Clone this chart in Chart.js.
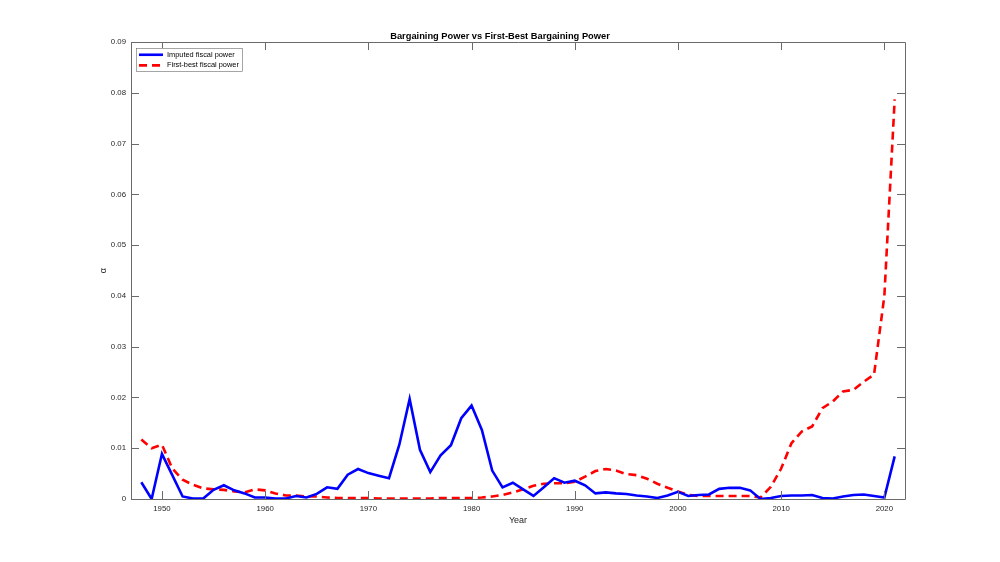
<!DOCTYPE html>
<html>
<head>
<meta charset="utf-8">
<script src="https://cdn.jsdelivr.net/npm/chart.js@4.4.0/dist/chart.umd.min.js"></script>
<style>
  body { margin: 0; background: #fff; }
</style>
</head>
<body>
<canvas id="myChart" width="1000" height="562"></canvas>
<script>
var years = [];
for (var yr = 1948; yr <= 2021; yr++) years.push(yr);

var imputed = [
  0.0033, 0, 0.0089, 0.0047, 0.0005, 0.0001, 0.0001, 0.0018, 0.0027, 0.0017,
  0.0011, 0.0003, 0.0003, 0.0001, 0.0001, 0.0006, 0.0003, 0.001, 0.0023, 0.002,
  0.0048, 0.0059, 0.0051, 0.0046, 0.0041, 0.0107, 0.0197, 0.0097, 0.0053, 0.0086,
  0.0106, 0.0159, 0.0184, 0.0136, 0.0056, 0.0023, 0.0032, 0.0019, 0.0006, 0.0023,
  0.0041, 0.0032, 0.0036, 0.0027, 0.0011, 0.0013, 0.0011, 0.001, 0.0007, 0.0005,
  0.0002, 0.0007, 0.0014, 0.0006, 0.0008, 0.0009, 0.002, 0.0022, 0.0022, 0.0017,
  0, 0.0002, 0.0006, 0.0007, 0.0007, 0.0008, 0.0002, 0.0001, 0.0005, 0.0008,
  0.0009, 0.0006, 0.0003, 0.0084
];

var firstBest = [
  0.0117, 0.01, 0.0107, 0.006, 0.0038, 0.0028, 0.0021, 0.0019, 0.0018, 0.0015,
  0.0013, 0.0019, 0.0017, 0.0011, 0.0007, 0.0007, 0.0005, 0.0005, 0.0003, 0.0002,
  0.0002, 0.0002, 0.0002, 0.0001, 0.0001, 0.0001, 0.0001, 0.0001, 0.0001, 0.0002,
  0.0002, 0.0002, 0.0002, 0.0003, 0.0005, 0.0008, 0.0013, 0.0019, 0.0026, 0.003,
  0.0031, 0.0031, 0.0034, 0.0044, 0.0055, 0.0059, 0.0056, 0.0049, 0.0047, 0.004,
  0.003, 0.0022, 0.0015, 0.0008, 0.0006, 0.0006, 0.0006, 0.0006, 0.0006, 0.0006,
  0.0003, 0.0024, 0.006, 0.011, 0.0133, 0.0143, 0.0179, 0.0192, 0.0212, 0.0215,
  0.0231, 0.0245, 0.040, 0.0787
];

var xTicks = [1950, 1960, 1970, 1980, 1990, 2000, 2010, 2020];
var yTicks = [0, 0.01, 0.02, 0.03, 0.04, 0.05, 0.06, 0.07, 0.08, 0.09];

var axisColor = '#262626';
var boxColor = '#6a6a6a';
var fontFamily = '"Liberation Sans", Arial, sans-serif';

function toPoints(vals) {
  return vals.map(function (v, i) { return { x: years[i], y: v }; });
}

// box round the axes with inward ticks on all four sides (matlab style)
var frame = {
  id: 'frame',
  afterDatasetsDraw: function (chart) {
    var a = chart.chartArea, c = chart.ctx;
    var xs = chart.scales.x, ys = chart.scales.y;
    var len = 8;
    c.save();
    c.strokeStyle = boxColor;
    c.lineWidth = 1;
    c.beginPath();
    c.rect(Math.round(a.left) + 0.5, Math.round(a.top) + 0.5,
      Math.round(a.right - a.left), Math.round(a.bottom - a.top));
    xTicks.forEach(function (t) {
      var px = Math.round(xs.getPixelForValue(t)) + 0.5;
      c.moveTo(px, a.bottom); c.lineTo(px, a.bottom - len);
      c.moveTo(px, a.top); c.lineTo(px, a.top + len);
    });
    yTicks.forEach(function (t) {
      var py = Math.round(ys.getPixelForValue(t)) + 0.5;
      c.moveTo(a.left, py); c.lineTo(a.left + len, py);
      c.moveTo(a.right, py); c.lineTo(a.right - len, py);
    });
    c.stroke();
    c.restore();
  }
};

// legend drawn inside the plot, top left
var insideLegend = {
  id: 'insideLegend',
  afterDraw: function (chart) {
    var a = chart.chartArea, c = chart.ctx;
    var bx = a.left + 5, by = a.top + 6, bw = 106, bh = 23;
    c.save();
    c.fillStyle = '#fff';
    c.fillRect(bx, by, bw, bh);
    c.strokeStyle = boxColor;
    c.lineWidth = 0.6;
    c.strokeRect(bx + 0.5, by + 0.5, bw, bh);
    c.font = '7.4px ' + fontFamily;
    c.textBaseline = 'middle';
    chart.data.datasets.forEach(function (ds, i) {
      var ry = by + 6.7 + i * 10.6;
      c.strokeStyle = ds.borderColor;
      c.lineWidth = ds.borderWidth;
      c.setLineDash(ds.borderDash || []);
      c.beginPath();
      c.moveTo(bx + 3, ry);
      c.lineTo(bx + 27, ry);
      c.stroke();
      c.setLineDash([]);
      c.fillStyle = '#000';
      c.fillText(ds.label, bx + 31, ry);
    });
    c.restore();
  }
};

var ctx = document.getElementById('myChart').getContext('2d');
var myChart = new Chart(ctx, {
  type: 'line',
  data: {
    datasets: [{
      label: 'Imputed fiscal power',
      data: toPoints(imputed),
      borderColor: '#0000ff',
      borderWidth: 2.6,
      pointRadius: 0,
      tension: 0,
      fill: false
    }, {
      label: 'First-best fiscal power',
      data: toPoints(firstBest),
      borderColor: '#ff0000',
      borderWidth: 2.6,
      borderDash: [8, 5],
      pointRadius: 0,
      tension: 0,
      fill: false
    }]
  },
  options: {
    responsive: false,
    devicePixelRatio: 1,
    animation: false,
    layout: { padding: { left: 95, right: 95, top: 0, bottom: 0 } },
    plugins: {
      legend: { display: false },
      tooltip: { enabled: false },
      title: {
        display: true,
        text: 'Bargaining Power vs First-Best Bargaining Power',
        color: '#000',
        font: { family: fontFamily, size: 9.3, weight: 'bold', lineHeight: 1.2 },
        padding: { top: 30.4, bottom: 0.5 }
      }
    },
    scales: {
      x: {
        type: 'linear',
        min: 1947,
        max: 2022,
        grid: { display: false, drawTicks: false },
        border: { display: false },
        afterBuildTicks: function (scale) {
          scale.ticks = xTicks.map(function (v) { return { value: v }; });
        },
        afterFit: function (scale) { scale.height = 63; },
        ticks: {
          color: axisColor,
          padding: 5,
          maxRotation: 0,
          autoSkip: false,
          font: { family: fontFamily, size: 7.8 },
          callback: function (v) { return String(v); }
        },
        title: {
          display: true,
          text: 'Year',
          color: axisColor,
          font: { family: fontFamily, size: 9, lineHeight: 1.2 },
          padding: { top: 0, bottom: 35.6 }
        }
      },
      y: {
        min: 0,
        max: 0.09,
        grid: { display: false, drawTicks: false },
        border: { display: false },
        afterBuildTicks: function (scale) {
          scale.ticks = yTicks.map(function (v) { return { value: v }; });
        },
        afterFit: function (scale) { scale.width = 36; },
        ticks: {
          color: axisColor,
          padding: 5,
          autoSkip: false,
          font: { family: fontFamily, size: 7.8 },
          callback: function (v) { return v === 0 ? '0' : v.toFixed(2); }
        },
        title: {
          display: true,
          text: 'α',
          color: axisColor,
          font: { family: fontFamily, size: 9, lineHeight: 1.2 },
          padding: { top: 2.9, bottom: 0 }
        }
      }
    }
  },
  plugins: [frame, insideLegend]
});
</script>
</body>
</html>
